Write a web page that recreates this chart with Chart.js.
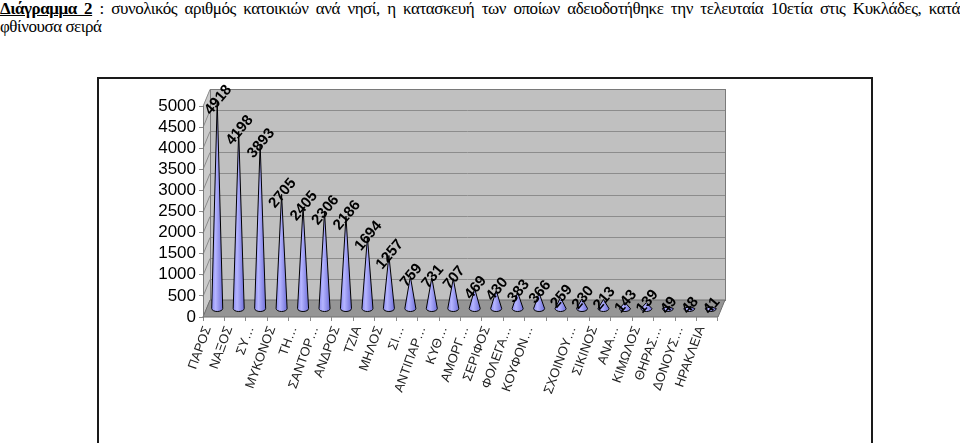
<!DOCTYPE html>
<html>
<head>
<meta charset="utf-8">
<script src="https://cdn.jsdelivr.net/npm/chart.js@4.4.1/dist/chart.umd.min.js"></script>
<style>
html, body { margin: 0; padding: 0; background: #fff; }
body { width: 960px; height: 443px; overflow: hidden; position: relative; }
#caption { position: absolute; left: 0; top: 0; width: 960px; font-family: "Liberation Serif", "Times New Roman", serif; font-size: 17px; letter-spacing: -0.45px; line-height: 18px; color: #000; }
#caption .l1 { text-align: justify; text-align-last: justify; }
#frame { position: absolute; left: 97px; top: 77px; width: 772px; height: 400px; border: 2px solid #1a1a1a; }
#chart { position: absolute; left: 0; top: 0; }
</style>
</head>
<body>
<div id="caption">
  <div class="l1"><b><u>Διάγραμμα 2</u></b> : συνολικός αριθμός κατοικιών ανά νησί, η κατασκευή των οποίων αδειοδοτήθηκε την τελευταία 10ετία στις Κυκλάδες, κατά</div>
  <div>φθίνουσα σειρά</div>
</div>
<div id="frame"></div>
<canvas id="chart" width="960" height="443"></canvas>
<script>
    // labels as they show on the axis (the original cuts the long ones)
    var islands = ['ΠΑΡΟΣ', 'ΝΑΞΟΣ', 'ΣΥ…', 'ΜΥΚΟΝΟΣ', 'ΤΗ…', 'ΣΑΝΤΟΡ…', 'ΑΝΔΡΟΣ', 'ΤΖΙΑ',
        'ΜΗΛΟΣ', 'ΣΙ…', 'ΑΝΤΙΠΑΡ…', 'ΚΥΘ…', 'ΑΜΟΡΓ…', 'ΣΕΡΙΦΟΣ', 'ΦΟΛΕΓΑ…', 'ΚΟΥΦΟΝ…', '',
        'ΣΧΟΙΝΟΥ…', 'ΣΙΚΙΝΟΣ', 'ΑΝΑ…', 'ΚΙΜΩΛΟΣ', 'ΘΗΡΑΣ…', 'ΔΟΝΟΥΣ…', 'ΗΡΑΚΛΕΙΑ'];
    var dwellings = [4918, 4198, 3893, 2705, 2405, 2306, 2186, 1694, 1257, 759, 731, 707,
        469, 430, 383, 366, 259, 230, 213, 143, 139, 49, 48, 41];
    var yMax = 5000;
    var yStep = 500;

    var depthX = 7, depthY = -17;

    // back wall, side wall and floor of the excel style 3d box
    var box3d = {
        id: 'box3d',
        beforeDraw: function(chart) {
            var ctx = chart.ctx;
            var a = chart.chartArea;
            var y = chart.scales.y;
            var top = y.getPixelForValue(yMax), bot = y.getPixelForValue(0);
            ctx.save();
            ctx.lineWidth = 1;
            // side wall
            ctx.fillStyle = '#cbcbcb';
            ctx.beginPath();
            ctx.moveTo(a.left, top);
            ctx.lineTo(a.left + depthX, top + depthY);
            ctx.lineTo(a.left + depthX, bot + depthY);
            ctx.lineTo(a.left, bot);
            ctx.closePath();
            ctx.fill();
            // back wall
            ctx.fillStyle = '#c0c0c0';
            ctx.fillRect(a.left + depthX, top + depthY, a.right - a.left, bot - top);
            // grid lines
            ctx.strokeStyle = '#8c8c8c';
            for (var v = 0; v <= yMax; v += yStep) {
                var py = Math.round(y.getPixelForValue(v)) + 0.5;
                ctx.beginPath();
                ctx.moveTo(a.left, py);
                ctx.lineTo(a.left + depthX, py + depthY);
                ctx.lineTo(a.right + depthX, py + depthY);
                ctx.stroke();
            }
            ctx.strokeStyle = '#7a7a7a';
            ctx.strokeRect(a.left + depthX + 0.5, top + depthY + 0.5, a.right - a.left, bot - top);
            // floor
            ctx.fillStyle = '#959595';
            ctx.beginPath();
            ctx.moveTo(a.left, bot);
            ctx.lineTo(a.left + depthX, bot + depthY);
            ctx.lineTo(a.right + depthX, bot + depthY);
            ctx.lineTo(a.right, bot);
            ctx.closePath();
            ctx.fill();
            ctx.strokeStyle = '#6e6e6e';
            ctx.stroke();
            ctx.restore();
        },
        afterDatasetsDraw: function(chart) {
            var ctx = chart.ctx;
            var y = chart.scales.y;
            var meta = chart.getDatasetMeta(0);
            var base = y.getPixelForValue(0) + depthY / 2;
            ctx.save();
            meta.data.forEach(function(bar, i) {
                var x = bar.x + depthX / 2;
                var tip = bar.y + depthY / 2;
                var w = 5.5;
                var g = ctx.createLinearGradient(x - w, 0, x + w, 0);
                g.addColorStop(0, '#8e8ef0');
                g.addColorStop(0.35, '#b4b4ff');
                g.addColorStop(1, '#6f6fd8');
                ctx.fillStyle = g;
                ctx.strokeStyle = '#000';
                ctx.lineWidth = 1;
                ctx.beginPath();
                ctx.moveTo(x, tip);
                ctx.lineTo(x - w, base);
                ctx.ellipse(x, base, w, 3, 0, Math.PI, 0, true);
                ctx.closePath();
                ctx.fill();
                ctx.stroke();
            });
            // value labels
            ctx.fillStyle = '#000';
            ctx.font = 'bold 15px "Liberation Sans", Arial, sans-serif';
            ctx.textAlign = 'center';
            ctx.textBaseline = 'middle';
            meta.data.forEach(function(bar, i) {
                ctx.save();
                ctx.translate(bar.x + depthX / 2 + 1, bar.y + depthY / 2 - 1);
                ctx.rotate(-50 * Math.PI / 180);
                ctx.fillText(String(dwellings[i]), 0, 0);
                ctx.restore();
            });
            ctx.restore();
        }
    };

    new Chart(document.getElementById('chart').getContext('2d'), {
        type: 'bar',
        data: {
            labels: islands,
            datasets: [
                {
                    data: dwellings,
                    backgroundColor: 'rgba(0,0,0,0)',
                    borderWidth: 0
                }
            ]
        },
        options: {
            responsive: false,
            animation: false,
            events: [],
            layout: { padding: { top: 106, right: 242, left: 0, bottom: 0 } },
            plugins: { legend: { display: false }, tooltip: { enabled: false } },
            scales: {
                x: {
                    afterFit: function(s) { s.height = 126; },
                    grid: { drawOnChartArea: false, drawTicks: true, tickLength: 4, color: '#8a8a8a' },
                    border: { display: false },
                    ticks: {
                        autoSkip: false,
                        minRotation: 70,
                        maxRotation: 70,
                        labelOffset: -6,
                        padding: 3,
                        color: '#222',
                        font: { family: '"Liberation Sans", Arial, sans-serif', size: 13 }
                    }
                },
                y: {
                    min: 0,
                    max: yMax,
                    afterFit: function(s) { s.width = 203; },
                    grid: { drawOnChartArea: false, drawTicks: true, tickLength: 4, color: '#8a8a8a' },
                    border: { display: true, color: '#7a7a7a' },
                    ticks: {
                        stepSize: yStep,
                        autoSkip: false,
                        padding: 3,
                        color: '#000',
                        font: { family: '"Liberation Sans", Arial, sans-serif', size: 17 },
                        callback: function(v) { return String(v); }
                    }
                }
            }
        },
        plugins: [box3d]
    });
</script>
</body>
</html>
